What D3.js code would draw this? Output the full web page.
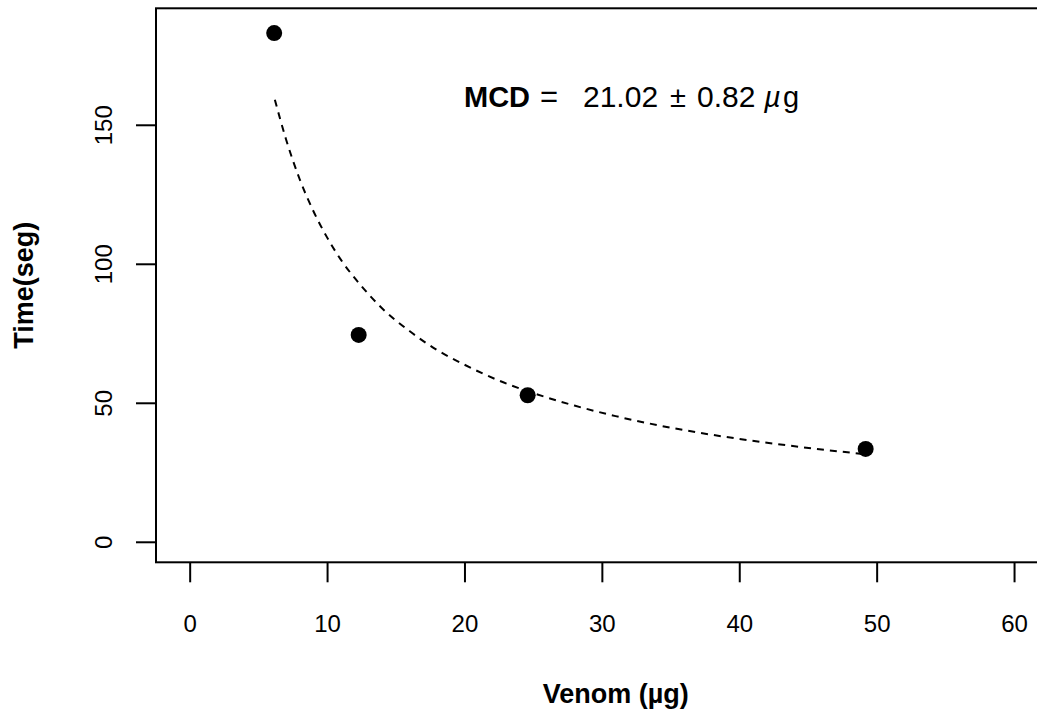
<!DOCTYPE html>
<html>
<head>
<meta charset="utf-8">
<script src="https://cdn.jsdelivr.net/npm/d3@7"></script>
<style>
  body { margin: 0; background: #fff; }
  svg { display: block; font-family: "Liberation Sans", Arial, Helvetica, sans-serif; }
</style>
</head>
<body>
<div id="chart"></div>
<script>
// measured points (venom dose in ug, time in seconds)
var venomDose = [6.15, 12.3, 24.6, 49.2];
var timeSeg = [183.0, 74.4, 52.7, 33.4];

// fitted curve
var curveX = [6.2, 7, 8, 9, 10, 11, 12.5, 14, 16, 18, 20, 22.5, 25, 28, 31, 34, 37, 40, 43, 46, 49];
var curveY = [159, 145, 130.5, 119, 109.5, 101.5, 92, 84, 75.8, 69, 63.7, 58, 53.5, 49, 45.2, 42, 39.3, 37, 35, 33.2, 31.6];

var xTicks = [0, 10, 20, 30, 40, 50, 60];
var yTicks = [0, 50, 100, 150];

var w = 1037, h = 717;
var plot = { left: 156, right: 1075.6, top: 8.3, bottom: 562.3 };

var svg = d3.select("#chart").append("svg")
    .attr("width", w)
    .attr("height", h);

var x = d3.scaleLinear().domain([-2.48, 64.48]).range([155.6, 1075.6]);
var y = d3.scaleLinear().domain([-7.38, 191.9]).range([plot.bottom, plot.top]);

// --- axes ---
var xAxis = svg.append("g")
    .attr("transform", `translate(0,${plot.bottom})`)
    .call(d3.axisBottom(x).tickValues(xTicks).tickSize(20).tickFormat(d3.format("d")));
xAxis.select(".domain").remove();
xAxis.selectAll("line").attr("stroke", "#000").attr("stroke-width", 2);
xAxis.selectAll("text")
    .attr("y", 70)
    .attr("dy", 0)
    .attr("fill", "#000")
    .style("font-size", "24px");

var yAxis = svg.append("g")
    .attr("transform", `translate(${plot.left},0)`)
    .call(d3.axisLeft(y).tickValues(yTicks).tickSize(20));
yAxis.select(".domain").remove();
yAxis.selectAll("line").attr("stroke", "#000").attr("stroke-width", 2);
yAxis.selectAll("text")
    .attr("transform", "rotate(-90)")
    .attr("x", 0)
    .attr("y", -44)
    .attr("dy", 0)
    .attr("text-anchor", "middle")
    .attr("fill", "#000")
    .style("font-size", "24px");

// box round the plot region (right side runs past the page)
svg.append("rect")
    .attr("x", plot.left)
    .attr("y", plot.top)
    .attr("width", plot.right - plot.left)
    .attr("height", plot.bottom - plot.top)
    .attr("fill", "none")
    .attr("stroke", "#000")
    .attr("stroke-width", 2);

// axis titles
svg.append("text")
    .attr("x", (plot.left + plot.right) / 2)
    .attr("y", 703)
    .attr("text-anchor", "middle")
    .style("font-size", "27px")
    .style("font-weight", "bold")
    .text("Venom (µg)");

svg.append("text")
    .attr("transform", `translate(33,${(plot.top + plot.bottom) / 2}) rotate(-90)`)
    .attr("text-anchor", "middle")
    .style("font-size", "27px")
    .style("font-weight", "bold")
    .text("Time(seg)");

// --- fitted curve ---
var curveData = curveX.map((v, i) => ({ x: v, y: curveY[i] }));
var line = d3.line()
    .x(d => x(d.x))
    .y(d => y(d.y))
    .curve(d3.curveMonotoneX);

svg.append("path")
    .datum(curveData)
    .attr("d", line)
    .attr("fill", "none")
    .attr("stroke", "#000")
    .attr("stroke-width", 2)
    .attr("stroke-dasharray", "7,6");

// --- points ---
var points = venomDose.map((v, i) => ({ x: v, y: timeSeg[i] }));
svg.append("g")
    .selectAll("circle")
    .data(points)
    .enter().append("circle")
    .attr("cx", d => x(d.x))
    .attr("cy", d => y(d.y))
    .attr("r", 8)
    .attr("fill", "#000");

// --- annotation (plotmath-style spacing) ---
var note = svg.append("text")
    .attr("y", 107)
    .style("font-size", "29px");
note.append("tspan").attr("x", 464).style("font-weight", "bold").text("MCD");
note.append("tspan").attr("x", 540).style("font-size", "31px").text("=");
note.append("tspan").attr("x", 583).style("font-size", "30px").text("21.02");
note.append("tspan").attr("x", 670).text("±");
note.append("tspan").attr("x", 697).style("font-size", "30px").text("0.82");
note.append("tspan").attr("x", 764).style("font-style", "italic").text("µ");
note.append("tspan").attr("x", 783).text("g");
</script>
</body>
</html>
